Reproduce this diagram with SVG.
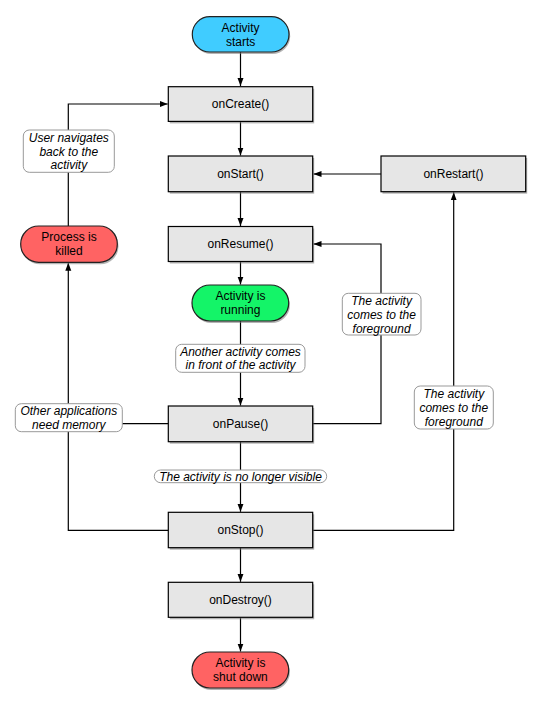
<svg xmlns="http://www.w3.org/2000/svg" width="545" height="711" viewBox="0 0 545 711">
<defs>
<marker id="arr" markerUnits="userSpaceOnUse" markerWidth="8" markerHeight="8" viewBox="0 0 8 8" refX="8" refY="4" orient="auto">
<path d="M0,1 L8,4 L0,7 z" fill="#000"/>
</marker>
</defs>
<style>
.box{fill:#e6e6e6;stroke:#000;stroke-width:1.2}
.sh{fill:#777;opacity:.55}
.pill{stroke:#222;stroke-width:1.2}
.lbl{fill:#fff;stroke:#999;stroke-width:1}
.t{font-family:"Liberation Sans",Arial,sans-serif;font-size:12px;text-anchor:middle;fill:#000}
.i{font-style:italic}
.c{fill:none;stroke:#000;stroke-width:1.2}
</style>
<rect width="545" height="711" fill="#fff"/>
<g id="connectors">
<path class="c" d="M240.5,52 V86" marker-end="url(#arr)"/>
<path class="c" d="M240.5,121.4 V155.5" marker-end="url(#arr)"/>
<path class="c" d="M240.5,191.7 V226" marker-end="url(#arr)"/>
<path class="c" d="M240.5,261.5 V284.5" marker-end="url(#arr)"/>
<path class="c" d="M240.5,321 V405.5" marker-end="url(#arr)"/>
<path class="c" d="M240.5,441.7 V511.8" marker-end="url(#arr)"/>
<path class="c" d="M240.5,547.7 V581.8" marker-end="url(#arr)"/>
<path class="c" d="M240.5,617.3 V651.5" marker-end="url(#arr)"/>
<path class="c" d="M381,174 H313.5" marker-end="url(#arr)"/>
<path class="c" d="M312.7,423.7 H381 V244 H313.5" marker-end="url(#arr)"/>
<path class="c" d="M312.7,530.3 H453.7 V192.3" marker-end="url(#arr)"/>
<path class="c" d="M168.3,423.7 H68.3 V262.8" marker-end="url(#arr)"/>
<path class="c" d="M168.3,530.3 H68.3 V423.7"/>
<path class="c" d="M68.3,226 V104 H167.7" marker-end="url(#arr)"/>
</g>
<g id="lbl-user">
<rect class="lbl" x="23.3" y="130" width="91" height="42.3" rx="6"/>
<text class="t i" x="68.8" y="141.6">User navigates</text>
<text class="t i" x="68.8" y="155.5">back to the</text>
<text class="t i" x="68.8" y="169.4">activity</text>
</g>
<g id="lbl-another">
<rect class="lbl" x="175.7" y="344.3" width="129.3" height="28" rx="6"/>
<text class="t i" x="240.5" y="355.5">Another activity comes</text>
<text class="t i" x="240.5" y="369.4">in front of the activity</text>
</g>
<g id="lbl-memory">
<rect class="lbl" x="15.3" y="403.7" width="107" height="28" rx="6"/>
<text class="t i" x="68.8" y="415.2">Other applications</text>
<text class="t i" x="68.8" y="429.1">need memory</text>
</g>
<g id="lbl-fg1">
<rect class="lbl" x="342.3" y="293.3" width="78.7" height="41.7" rx="6"/>
<text class="t i" x="381.6" y="304.9">The activity</text>
<text class="t i" x="381.6" y="318.7">comes to the</text>
<text class="t i" x="381.6" y="332.5">foreground</text>
</g>
<g id="lbl-fg2">
<rect class="lbl" x="414.3" y="386" width="79" height="43" rx="6"/>
<text class="t i" x="453.8" y="398.4">The activity</text>
<text class="t i" x="453.8" y="412.2">comes to the</text>
<text class="t i" x="453.8" y="426">foreground</text>
</g>
<g id="lbl-visible">
<rect class="lbl" x="154.3" y="470" width="172.4" height="12.7" rx="6.3"/>
<text class="t i" x="240.5" y="480.7">The activity is no longer visible</text>
</g>
<g id="activity-starts">
<rect class="sh" x="193.5" y="18.5" width="96.7" height="35.5" rx="17.7"/>
<rect class="pill" x="192.3" y="16.7" width="96.7" height="35.3" rx="17.6" fill="#40ccff"/>
<text class="t" x="240.6" y="31.6">Activity</text>
<text class="t" x="240.6" y="45.5">starts</text>
</g>
<g id="onCreate">
<rect class="sh" x="169.8" y="88.7" width="144.4" height="34.7"/>
<rect class="box" x="168.3" y="86.7" width="144.4" height="34.7"/>
<text class="t" x="240.5" y="108.3">onCreate()</text>
</g>
<g id="onStart">
<rect class="sh" x="169.8" y="158" width="144.4" height="35.7"/>
<rect class="box" x="168.3" y="156" width="144.4" height="35.7"/>
<text class="t" x="240.5" y="178.3">onStart()</text>
</g>
<g id="onRestart">
<rect class="sh" x="382.5" y="158" width="144.7" height="35.7"/>
<rect class="box" x="381" y="156" width="144.7" height="35.7"/>
<text class="t" x="453.4" y="178.3">onRestart()</text>
</g>
<g id="onResume">
<rect class="sh" x="169.8" y="228.5" width="144.4" height="35"/>
<rect class="box" x="168.3" y="226.5" width="144.4" height="35"/>
<text class="t" x="240.5" y="248.3">onResume()</text>
</g>
<g id="process-killed">
<rect class="sh" x="21.9" y="228" width="96.6" height="36.3" rx="18"/>
<rect class="pill" x="20.7" y="226" width="96.6" height="36.3" rx="18" fill="#ff6363"/>
<text class="t" x="69" y="241.3">Process is</text>
<text class="t" x="69" y="255.2">killed</text>
</g>
<g id="activity-running">
<rect class="sh" x="193.2" y="287" width="96.7" height="36" rx="18"/>
<rect class="pill" x="192" y="285" width="96.7" height="36" rx="18" fill="#14f468"/>
<text class="t" x="240.4" y="300.4">Activity is</text>
<text class="t" x="240.4" y="314.3">running</text>
</g>
<g id="onPause">
<rect class="sh" x="169.8" y="408" width="144.4" height="35.7"/>
<rect class="box" x="168.3" y="406" width="144.4" height="35.7"/>
<text class="t" x="240.5" y="428.3">onPause()</text>
</g>
<g id="onStop">
<rect class="sh" x="169.8" y="514.3" width="144.4" height="35.4"/>
<rect class="box" x="168.3" y="512.3" width="144.4" height="35.4"/>
<text class="t" x="240.5" y="534.3">onStop()</text>
</g>
<g id="onDestroy">
<rect class="sh" x="169.8" y="584.3" width="144.4" height="35"/>
<rect class="box" x="168.3" y="582.3" width="144.4" height="35"/>
<text class="t" x="240.5" y="604.1">onDestroy()</text>
</g>
<g id="activity-shutdown">
<rect class="sh" x="193.2" y="654" width="96.7" height="36" rx="18"/>
<rect class="pill" x="192" y="652" width="96.7" height="36" rx="18" fill="#ff6363"/>
<text class="t" x="240.4" y="667.3">Activity is</text>
<text class="t" x="240.4" y="681.2">shut down</text>
</g>
</svg>
